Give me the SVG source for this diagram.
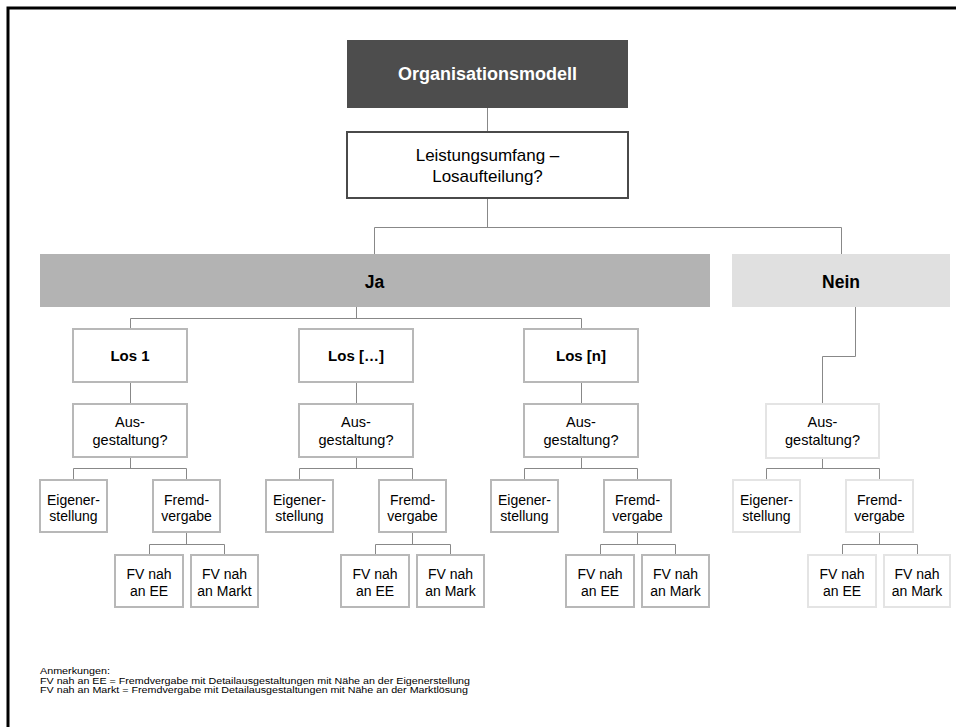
<svg xmlns="http://www.w3.org/2000/svg" width="956" height="727" viewBox="0 0 956 727">
  <style>
    text { font-family: "Liberation Sans", Arial, sans-serif; fill: #000; text-anchor: middle; }
    .title { font-size: 18px; font-weight: bold; fill: #fff; }
    .q { font-size: 17px; }
    .bar { font-size: 17.5px; font-weight: bold; }
    .los { font-size: 15px; font-weight: bold; }
    .lbl { font-size: 14.5px; }
    .sm { font-size: 14px; }
    .note { font-size: 8.4px; text-anchor: start; }
    .box { fill: #fff; stroke: #b8b8b8; stroke-width: 2; }
    .boxL { fill: #fff; stroke: #e4e4e4; stroke-width: 2; }
    .conn path { fill: none; stroke: #888; stroke-width: 1; }
  </style>

  <!-- page frame: only left and top edges are drawn -->
  <path d="M8,727 V8 H956" fill="none" stroke="#000" stroke-width="3"/>

  <!-- connectors -->
  <g id="connectors" class="conn">
    <path d="M487.5,108 V132" stroke-width="1.5"/>
    <path d="M487.5,198 V227.5 M374.5,254 V227.5 H841.5 V254"/>
    <!-- Ja to lots -->
    <path d="M356.5,307 V318.5 M130.5,329 V318.5 H581.5 V329"/>
    <!-- lot 1 -->
    <path d="M130.5,382 V404 M130.5,457 V468.5 M73.5,480 V468.5 H186.5 V480 M186.5,532 V544.5 M149.5,555 V544.5 H224.5 V555"/>
    <!-- lot [...] -->
    <path d="M356.5,382 V404 M356.5,457 V468.5 M299.5,480 V468.5 H412.5 V480 M412.5,532 V544.5 M375.5,555 V544.5 H450.5 V555"/>
    <!-- lot [n] -->
    <path d="M581.5,382 V404 M581.5,457 V468.5 M524.5,480 V468.5 H637.5 V480 M637.5,532 V544.5 M600.5,555 V544.5 H675.5 V555"/>
    <!-- Nein branch -->
    <path d="M855.5,307 V356.5 H822.5 V404 M822.5,457 V468.5 M766.5,480 V468.5 H879.5 V480 M879.5,532 V544.5 M842.5,555 V544.5 H917.5 V555"/>
  </g>

  <g id="organisationsmodell">
    <rect x="347" y="40" width="281" height="68" fill="#4d4d4d"/>
    <text class="title" x="487.5" y="80">Organisationsmodell</text>
  </g>

  <g id="losaufteilung">
    <rect x="347" y="132" width="281" height="66" fill="#fff" stroke="#4a4a4a" stroke-width="2"/>
    <text class="q" x="487.5" y="161">Leistungsumfang –</text>
    <text class="q" x="487.5" y="182">Losaufteilung?</text>
  </g>

  <g id="ja">
    <rect x="40" y="254" width="670" height="53" fill="#b3b3b3"/>
    <text class="bar" x="374.5" y="288">Ja</text>
  </g>

  <g id="nein">
    <rect x="732" y="254" width="218" height="53" fill="#e0e0e0"/>
    <text class="bar" x="841" y="288">Nein</text>
  </g>

  <!-- lot 1 -->
  <g id="los-1">
    <rect class="box" x="73" y="329" width="114" height="53"/>
    <text class="los" x="130" y="361">Los 1</text>
  </g>
  <g id="los-1-ausgestaltung">
    <rect class="box" x="73" y="404" width="114" height="53"/>
    <text class="lbl" x="130" y="427">Aus-</text>
    <text class="lbl" x="130" y="445">gestaltung?</text>
  </g>
  <g id="los-1-eigenerstellung">
    <rect class="box" x="40" y="480" width="67" height="52"/>
    <text class="sm" x="73.5" y="505">Eigener-</text>
    <text class="sm" x="73.5" y="521">stellung</text>
  </g>
  <g id="los-1-fremdvergabe">
    <rect class="box" x="153" y="480" width="67" height="52"/>
    <text class="sm" x="186.5" y="505">Fremd-</text>
    <text class="sm" x="186.5" y="521">vergabe</text>
  </g>
  <g id="los-1-fv-ee">
    <rect class="box" x="115" y="555" width="68" height="52"/>
    <text class="sm" x="149" y="579">FV nah</text>
    <text class="sm" x="149" y="596">an EE</text>
  </g>
  <g id="los-1-fv-markt">
    <rect class="box" x="191" y="555" width="67" height="52"/>
    <text class="sm" x="224.5" y="579">FV nah</text>
    <text class="sm" x="224.5" y="596">an Markt</text>
  </g>

  <!-- lot [...] -->
  <g id="los-mid">
    <rect class="box" x="299" y="329" width="114" height="53"/>
    <text class="los" x="356" y="361">Los […]</text>
  </g>
  <g id="los-mid-ausgestaltung">
    <rect class="box" x="299" y="404" width="114" height="53"/>
    <text class="lbl" x="356" y="427">Aus-</text>
    <text class="lbl" x="356" y="445">gestaltung?</text>
  </g>
  <g id="los-mid-eigenerstellung">
    <rect class="box" x="266" y="480" width="67" height="52"/>
    <text class="sm" x="299.5" y="505">Eigener-</text>
    <text class="sm" x="299.5" y="521">stellung</text>
  </g>
  <g id="los-mid-fremdvergabe">
    <rect class="box" x="379" y="480" width="67" height="52"/>
    <text class="sm" x="412.5" y="505">Fremd-</text>
    <text class="sm" x="412.5" y="521">vergabe</text>
  </g>
  <g id="los-mid-fv-ee">
    <rect class="box" x="341" y="555" width="68" height="52"/>
    <text class="sm" x="375" y="579">FV nah</text>
    <text class="sm" x="375" y="596">an EE</text>
  </g>
  <g id="los-mid-fv-markt">
    <rect class="box" x="417" y="555" width="67" height="52"/>
    <text class="sm" x="450.5" y="579">FV nah</text>
    <text class="sm" x="450.5" y="596">an Mark</text>
  </g>

  <!-- lot [n] -->
  <g id="los-n">
    <rect class="box" x="524" y="329" width="114" height="53"/>
    <text class="los" x="581" y="361">Los [n]</text>
  </g>
  <g id="los-n-ausgestaltung">
    <rect class="box" x="524" y="404" width="114" height="53"/>
    <text class="lbl" x="581" y="427">Aus-</text>
    <text class="lbl" x="581" y="445">gestaltung?</text>
  </g>
  <g id="los-n-eigenerstellung">
    <rect class="box" x="491" y="480" width="67" height="52"/>
    <text class="sm" x="524.5" y="505">Eigener-</text>
    <text class="sm" x="524.5" y="521">stellung</text>
  </g>
  <g id="los-n-fremdvergabe">
    <rect class="box" x="604" y="480" width="67" height="52"/>
    <text class="sm" x="637.5" y="505">Fremd-</text>
    <text class="sm" x="637.5" y="521">vergabe</text>
  </g>
  <g id="los-n-fv-ee">
    <rect class="box" x="566" y="555" width="68" height="52"/>
    <text class="sm" x="600" y="579">FV nah</text>
    <text class="sm" x="600" y="596">an EE</text>
  </g>
  <g id="los-n-fv-markt">
    <rect class="box" x="642" y="555" width="67" height="52"/>
    <text class="sm" x="675.5" y="579">FV nah</text>
    <text class="sm" x="675.5" y="596">an Mark</text>
  </g>

  <!-- Nein branch -->
  <g id="nein-ausgestaltung">
    <rect class="boxL" x="766" y="404" width="113" height="54"/>
    <text class="lbl" x="822.5" y="427">Aus-</text>
    <text class="lbl" x="822.5" y="445">gestaltung?</text>
  </g>
  <g id="nein-eigenerstellung">
    <rect class="boxL" x="733" y="480" width="67" height="52"/>
    <text class="sm" x="766.5" y="505">Eigener-</text>
    <text class="sm" x="766.5" y="521">stellung</text>
  </g>
  <g id="nein-fremdvergabe">
    <rect class="boxL" x="846" y="480" width="67" height="52"/>
    <text class="sm" x="879.5" y="505">Fremd-</text>
    <text class="sm" x="879.5" y="521">vergabe</text>
  </g>
  <g id="nein-fv-ee">
    <rect class="boxL" x="808" y="555" width="68" height="52"/>
    <text class="sm" x="842" y="579">FV nah</text>
    <text class="sm" x="842" y="596">an EE</text>
  </g>
  <g id="nein-fv-markt">
    <rect class="boxL" x="884" y="555" width="66" height="52"/>
    <text class="sm" x="917" y="579">FV nah</text>
    <text class="sm" x="917" y="596">an Mark</text>
  </g>

  <!-- notes -->
  <g id="anmerkungen">
    <text class="note" x="40" y="674" textLength="70" lengthAdjust="spacingAndGlyphs">Anmerkungen:</text>
    <text class="note" x="40" y="683.5" textLength="430" lengthAdjust="spacingAndGlyphs">FV nah an EE = Fremdvergabe mit Detailausgestaltungen mit Nähe an der Eigenerstellung</text>
    <text class="note" x="40" y="693" textLength="428" lengthAdjust="spacingAndGlyphs">FV nah an Markt = Fremdvergabe mit Detailausgestaltungen mit Nähe an der Marktlösung</text>
  </g>
</svg>
